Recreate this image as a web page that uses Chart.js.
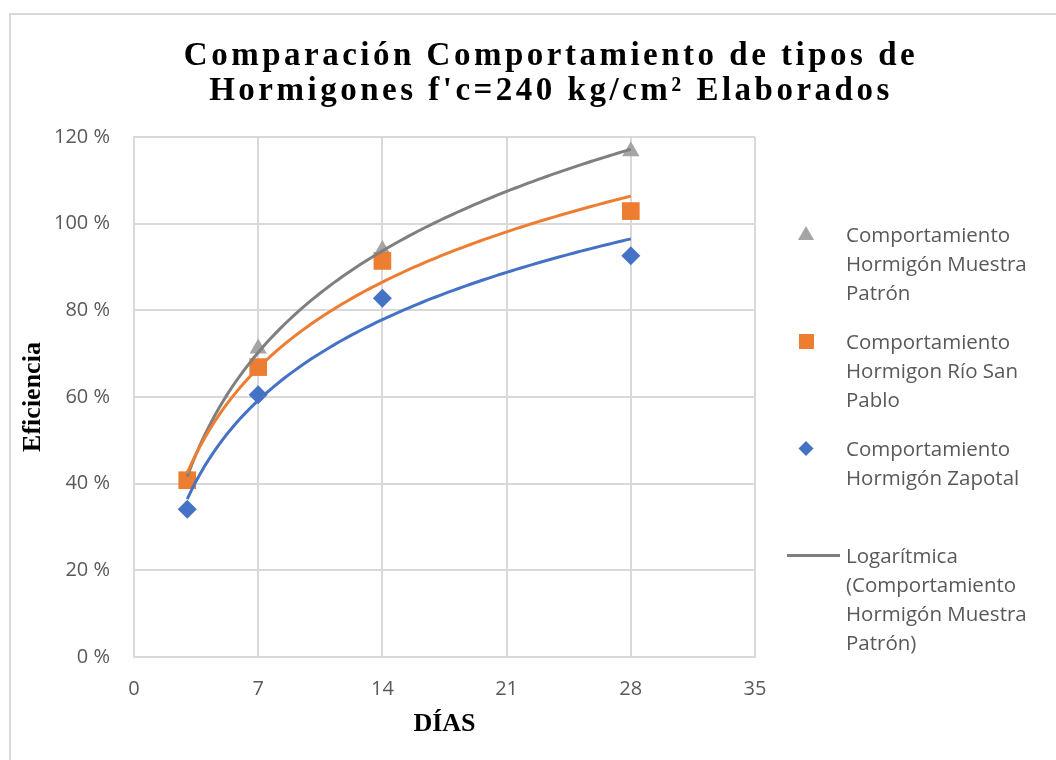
<!DOCTYPE html>
<html lang="es">
<head>
<meta charset="utf-8">
<script src="https://cdn.jsdelivr.net/npm/chart.js@4.4.1/dist/chart.umd.min.js"></script>
<style>
  html, body { margin: 0; padding: 0; background: #fff; }
  #wrap { position: relative; width: 1056px; height: 760px; overflow: hidden; }
  #frame { position: absolute; left: 9px; top: 13px; width: 1100px; height: 800px;
           border-left: 2px solid #d9d9d9; border-top: 2px solid #d9d9d9; box-sizing: border-box; }
  #title { position: absolute; left: 0; width: 1102px; top: 37px; text-align: center;
           font-family: "Liberation Serif", "Times New Roman", serif; font-weight: bold;
           font-size: 33px; line-height: 35px; letter-spacing: 3.5px; color: #000; }
  #chart { position: absolute; left: 0; top: 0; }
  #legend { position: absolute; left: 780px; top: 0; font-family: "Open Sans", sans-serif;
            font-size: 20.5px; line-height: 29px; color: #595959; }
  .item { position: absolute; left: 0; width: 280px; }
  .item svg { position: absolute; left: 0; top: 0; }
  .item span { position: absolute; left: 66px; top: 0; white-space: nowrap; }
</style>
</head>
<body>
<div id="wrap">
  <div id="frame"></div>
  <canvas id="chart" width="1056" height="760"></canvas>
  <div id="title">Comparación Comportamiento de tipos de<br>Hormigones f'c=240 kg/cm² Elaborados</div>
  <div id="legend"></div>
</div>
<script>
// Datos (eficiencia en %)
const dias = [3, 7, 14, 28]
const patron = [41, 71.2, 93.9, 116.7]
const rioSanPablo = [40.8, 66.9, 91.4, 102.9]
const zapotal = [34.1, 60.5, 82.8, 92.6]

const xTicks = [0, 7, 14, 21, 28, 35]
const yTicks = [0, 20, 40, 60, 80, 100, 120]

const seriesNames = [
  ["Comportamiento", "Hormigón Muestra", "Patrón"],
  ["Comportamiento", "Hormigon Río San", "Pablo"],
  ["Comportamiento", "Hormigón Zapotal"],
  ["Logarítmica", "(Comportamiento", "Hormigón Muestra", "Patrón)"],
]

const GRAY = "#a5a5a5"
const GRAY_LINE = "#7f7f7f"
const ORANGE = "#ed7d31"
const BLUE = "#4472c4"

// Línea de tendencia logarítmica (mínimos cuadrados sobre ln x), como en Excel
function logTrend(xs, ys) {
  const lx = xs.map((x) => Math.log(x))
  const n = xs.length
  const mx = lx.reduce((a, b) => a + b, 0) / n
  const my = ys.reduce((a, b) => a + b, 0) / n
  let sxy = 0
  let sxx = 0
  lx.forEach((v, i) => {
    sxy += (v - mx) * (ys[i] - my)
    sxx += (v - mx) * (v - mx)
  })
  const b = sxy / sxx
  const a = my - b * mx
  const pts = []
  const x0 = xs[0]
  const x1 = xs[xs.length - 1]
  for (let k = 0; k <= 100; k++) {
    const x = x0 + ((x1 - x0) * k) / 100
    pts.push({ x: x, y: a + b * Math.log(x) })
  }
  return pts
}

function toPoints(ys) {
  return dias.map((d, i) => ({ x: d, y: ys[i] }))
}

function trendDataset(ys, color) {
  return {
    type: "line",
    data: logTrend(dias, ys),
    borderColor: color,
    borderWidth: 3,
    pointRadius: 0,
    fill: false,
    tension: 0,
    order: 0,
  }
}

const ctx = document.getElementById("chart").getContext("2d")
const chart = new Chart(ctx, {
  type: "scatter",
  data: {
    datasets: [
      { label: "patron", data: toPoints(patron), pointStyle: "triangle", pointRadius: 10,
        backgroundColor: GRAY, borderColor: GRAY, borderWidth: 0, order: 3 },
      { label: "rio", data: toPoints(rioSanPablo), pointStyle: "rect", pointRadius: 12.5,
        backgroundColor: ORANGE, borderColor: ORANGE, borderWidth: 0, order: 2 },
      { label: "zapotal", data: toPoints(zapotal), pointStyle: "rectRot", pointRadius: 9.5,
        backgroundColor: BLUE, borderColor: BLUE, borderWidth: 0, order: 1 },
      trendDataset(zapotal, BLUE),
      trendDataset(rioSanPablo, ORANGE),
      trendDataset(patron, GRAY_LINE),
    ],
  },
  options: {
    responsive: false,
    animation: false,
    layout: { padding: { left: 18, top: 137, right: 301, bottom: 20 } },
    plugins: {
      legend: { display: false },
      tooltip: { enabled: false },
      title: { display: false },
    },
    scales: {
      x: {
        type: "linear",
        min: 0,
        max: 35,
        afterBuildTicks: (scale) => { scale.ticks = xTicks.map((v) => ({ value: v })) },
        afterFit: (scale) => { scale.height = 760 - 657 - 20 },
        grid: { color: "#d9d9d9", lineWidth: 2, drawTicks: false },
        border: { color: "#d9d9d9", width: 2 },
        ticks: { color: "#595959", padding: 20, font: { family: "Open Sans", size: 20 } },
        title: { display: true, text: "DÍAS", color: "#000", padding: 0,
                 font: { family: "Liberation Serif", size: 26, weight: "bold" } },
      },
      y: {
        min: 0,
        max: 120,
        afterBuildTicks: (scale) => { scale.ticks = yTicks.map((v) => ({ value: v })) },
        afterFit: (scale) => { scale.width = 134 - 18 },
        grid: { color: "#d9d9d9", lineWidth: 2, drawTicks: false },
        border: { color: "#d9d9d9", width: 2 },
        ticks: { color: "#595959", padding: 24, font: { family: "Open Sans", size: 20 },
                 callback: (v) => v + " %" },
        title: { display: true, text: "Eficiencia", color: "#000", padding: 0,
                 font: { family: "Liberation Serif", size: 26, weight: "bold" } },
      },
    },
  },
})

// Leyenda (como en Excel: tres series y la tendencia de la muestra patrón)
const markers = [
  `<svg width="60" height="29"><polygon points="26,6 34,20 18,20" fill="${GRAY}"/></svg>`,
  `<svg width="60" height="29"><rect x="19" y="7" width="15" height="15" fill="${ORANGE}"/></svg>`,
  `<svg width="60" height="29"><polygon points="26,7 33.5,14.5 26,22 18.5,14.5" fill="${BLUE}"/></svg>`,
  `<svg width="60" height="29"><line x1="7" y1="14.5" x2="60" y2="14.5" stroke="${GRAY_LINE}" stroke-width="3"/></svg>`,
]
const itemTops = [220, 327, 434, 541]
const legend = document.getElementById("legend")
seriesNames.forEach((lines, i) => {
  const div = document.createElement("div")
  div.className = "item"
  div.style.top = itemTops[i] + "px"
  div.innerHTML = markers[i] + `<span>${lines.join("<br>")}</span>`
  legend.appendChild(div)
})
</script>
</body>
</html>
